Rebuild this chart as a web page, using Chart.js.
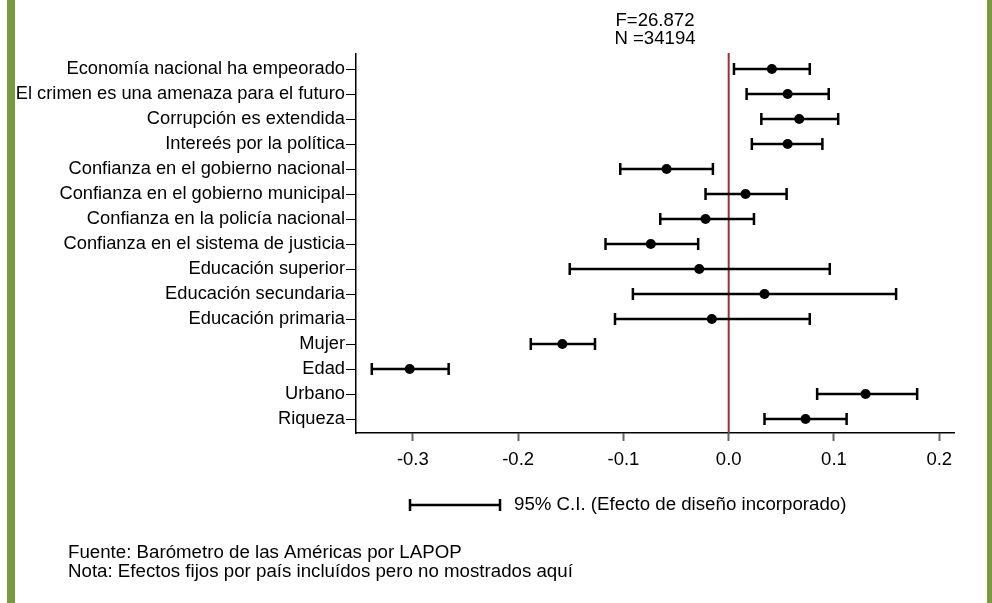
<!DOCTYPE html>
<html>
<head>
<meta charset="utf-8">
<script src="https://cdn.jsdelivr.net/npm/chart.js@4.4.0/dist/chart.umd.min.js"></script>
<style>
html, body { margin: 0; padding: 0; background: #fff; }
#wrap { position: relative; width: 992px; height: 603px; overflow: hidden; }
.bar { position: absolute; top: 0; height: 603px; background: #7a9a3f; }
</style>
</head>
<body>
<div id="wrap">
<canvas id="chart" width="992" height="603"></canvas>
<div class="bar" style="left:7px;width:8px"></div>
<div class="bar" style="left:987px;width:5px"></div>
</div>
<script>
// variables, top to bottom
var labels = [
  "Economía nacional ha empeorado",
  "El crimen es una amenaza para el futuro",
  "Corrupción es extendida",
  "Intereés por la política",
  "Confianza en el gobierno nacional",
  "Confianza en el gobierno municipal",
  "Confianza en la policía nacional",
  "Confianza en el sistema de justicia",
  "Educación superior",
  "Educación secundaria",
  "Educación primaria",
  "Mujer",
  "Edad",
  "Urbano",
  "Riqueza"
];
var coef   = [0.041, 0.056, 0.067, 0.056, -0.059, 0.016, -0.022, -0.074, -0.028, 0.034, -0.016, -0.158, -0.303, 0.130, 0.073];
var ciLow  = [0.005, 0.017, 0.031, 0.022, -0.103, -0.022, -0.065, -0.117, -0.151, -0.091, -0.108, -0.188, -0.339, 0.084, 0.034];
var ciHigh = [0.077, 0.095, 0.104, 0.089, -0.015, 0.055, 0.024, -0.029, 0.096, 0.159, 0.077, -0.127, -0.266, 0.179, 0.112];
var xTicks = [-0.3, -0.2, -0.1, 0.0, 0.1, 0.2];
var statLines = ["F=26.872", "N =34194"];
var legendText = "95% C.I. (Efecto de diseño incorporado)";
var notes = [
  "Fuente: Barómetro de las Américas por LAPOP",
  "Nota: Efectos fijos por país incluídos pero no mostrados aquí"
];

var FONT = "'Liberation Sans', Arial, sans-serif";

// red zero line + confidence intervals, legend and notes
var ciPlugin = {
  id: 'ciPlugin',
  beforeDatasetsDraw: function (chart) {
    var ctx = chart.ctx, xs = chart.scales.x, ys = chart.scales.y, a = chart.chartArea;
    var x0 = xs.getPixelForValue(0);
    ctx.save();
    ctx.strokeStyle = '#9e2f36';
    ctx.lineWidth = 2;
    ctx.beginPath();
    ctx.moveTo(x0, a.top - 1);
    ctx.lineTo(x0, a.bottom);
    ctx.stroke();

    ctx.strokeStyle = '#000';
    ctx.lineWidth = 2.5;
    for (var i = 0; i < labels.length; i++) {
      var y = ys.getPixelForValue(i + 1),
          l = xs.getPixelForValue(ciLow[i]),
          h = xs.getPixelForValue(ciHigh[i]);
      ctx.beginPath();
      ctx.moveTo(l, y); ctx.lineTo(h, y);
      ctx.moveTo(l, y - 6); ctx.lineTo(l, y + 6);
      ctx.moveTo(h, y - 6); ctx.lineTo(h, y + 6);
      ctx.stroke();
    }
    ctx.restore();
  },
  afterDraw: function (chart) {
    var ctx = chart.ctx;
    ctx.save();
    // legend key
    var ly = 505;
    ctx.strokeStyle = '#000';
    ctx.lineWidth = 2.5;
    ctx.beginPath();
    ctx.moveTo(410, ly); ctx.lineTo(500, ly);
    ctx.moveTo(410, ly - 6); ctx.lineTo(410, ly + 6);
    ctx.moveTo(500, ly - 6); ctx.lineTo(500, ly + 6);
    ctx.stroke();
    ctx.fillStyle = '#000';
    ctx.font = '18.7px ' + FONT;
    ctx.textBaseline = 'middle';
    ctx.textAlign = 'left';
    ctx.fillText(legendText, 514, ly);
    // notes
    ctx.fillText(notes[0], 68, 553);
    ctx.fillText(notes[1], 68, 572);
    ctx.restore();
  }
};

new Chart(document.getElementById('chart').getContext('2d'), {
  type: 'scatter',
  data: {
    datasets: [{
      data: coef.map(function (v, i) { return { x: v, y: i + 1 }; }),
      backgroundColor: '#000',
      borderColor: '#000',
      borderWidth: 0,
      pointRadius: 5,
      pointHoverRadius: 5
    }]
  },
  options: {
    responsive: false,
    animation: false,
    devicePixelRatio: 1,
    layout: { padding: { left: 0, right: 38, top: 0, bottom: 0 } },
    plugins: {
      legend: { display: false },
      tooltip: { enabled: false },
      title: {
        display: true,
        fullSize: false,
        text: statLines,
        color: '#000',
        font: { family: FONT, size: 18.6, weight: 'normal', lineHeight: 0.97 },
        padding: { top: 12, bottom: 6 }
      }
    },
    scales: {
      x: {
        type: 'linear',
        min: -0.354,
        max: 0.214,
        afterBuildTicks: function (s) { s.ticks = xTicks.map(function (v) { return { value: v }; }); },
        afterFit: function (s) { s.height = 170; },
        ticks: {
          callback: function (v, i) { return xTicks[i].toFixed(1); },
          color: '#000',
          padding: 8,
          maxRotation: 0,
          font: { family: FONT, size: 18.5 }
        },
        grid: { drawOnChartArea: false, tickLength: 8, tickWidth: 2, tickColor: '#666' },
        border: { color: '#000', width: 1.5 }
      },
      y: {
        type: 'linear',
        reverse: true,
        min: 0.4,
        max: 15.56,
        afterBuildTicks: function (s) { s.ticks = labels.map(function (_, i) { return { value: i + 1 }; }); },
        afterFit: function (s) { s.width = 356; },
        ticks: {
          autoSkip: false,
          callback: function (v, i) { return labels[i]; },
          color: '#000',
          padding: 1,
          font: { family: FONT, size: 18.3 }
        },
        grid: { drawOnChartArea: false, tickLength: 10, tickWidth: 1, tickColor: '#000' },
        border: { color: '#000', width: 1.5 }
      }
    }
  },
  plugins: [ciPlugin]
});
</script>
</body>
</html>
